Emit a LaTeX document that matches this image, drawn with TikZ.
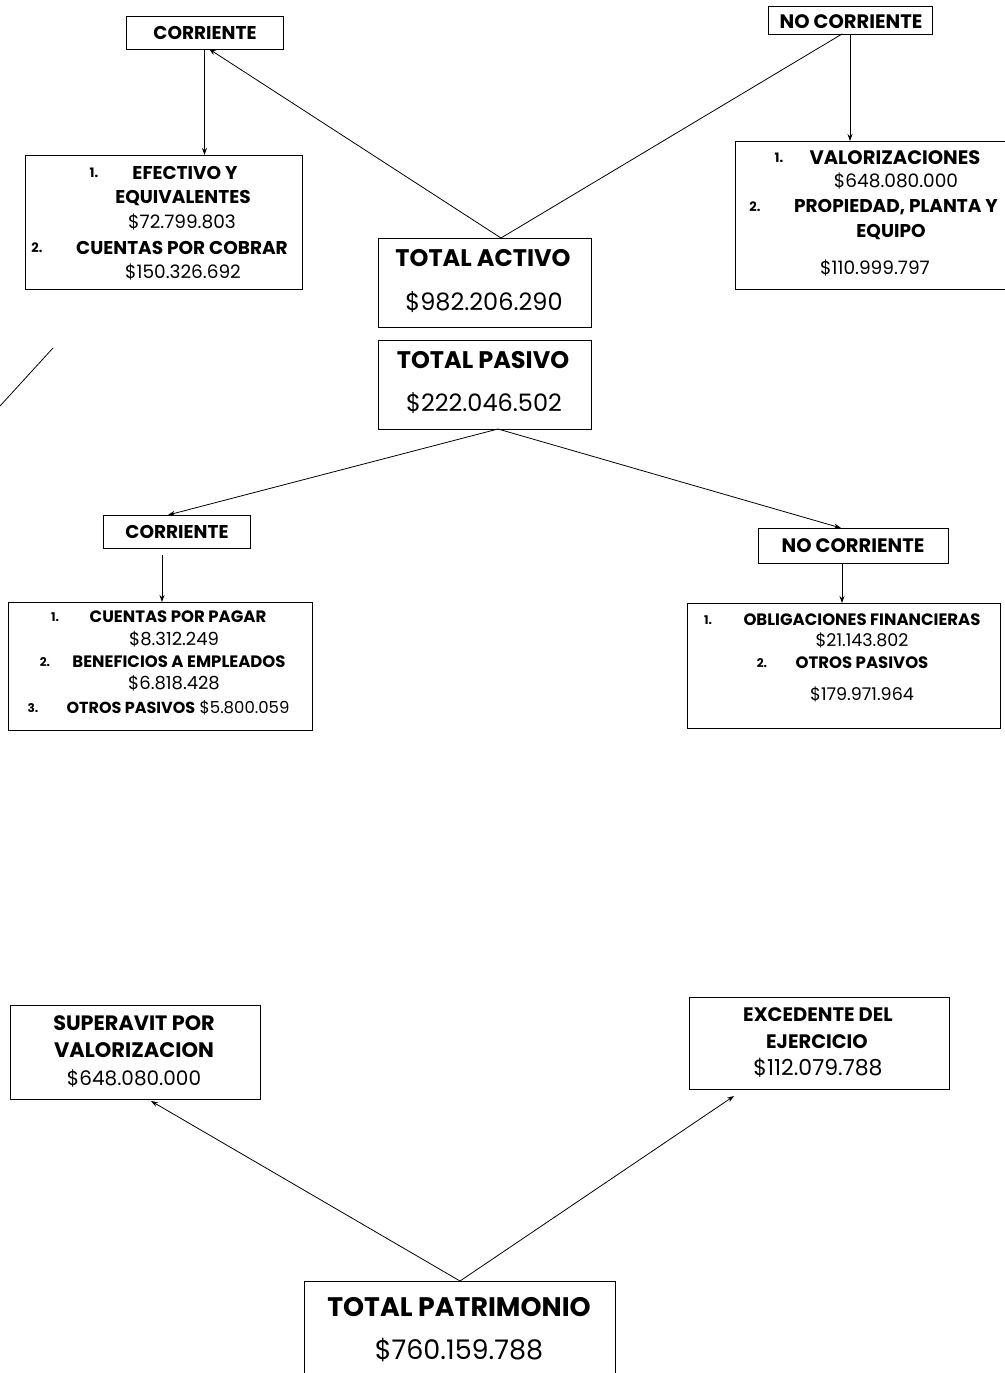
\documentclass[tikz,border=0pt]{standalone}
\usepackage{fontspec}
\setmainfont{Poppins}
\usetikzlibrary{arrows.meta}
\newcommand\myfs[1]{\fontsize{#1}{#1}\selectfont}
\tikzset{
  box/.style={draw, line width=0.9pt, inner sep=0pt, outer sep=0pt},
  hd/.style={inner sep=0pt, anchor=center, font=\bfseries\myfs{#1}},
  hd/.default=18,
  num/.style={inner sep=0pt, anchor=center, font=\myfs{#1}},
  num/.default=18,
  conn/.style={line width=0.8pt, -{Stealth[length=7pt,width=5pt]}},
  plain/.style={line width=0.8pt},
}
\begin{document}
\begin{tikzpicture}[x=1pt,y=-1pt]
\useasboundingbox (0,0) rectangle (1004,1373);
% ---------- boxes ----------
\node[box, minimum width=157, minimum height=33] (ac) at (204.5,32.5) {};
\node[box, minimum width=164, minimum height=28] (anc) at (850,20.5) {};
\node[box, minimum width=277, minimum height=134] (aef) at (163.5,222) {};
\node[box, minimum width=213, minimum height=89] (ta) at (484.5,282.5) {};
\node[box, minimum width=213, minimum height=89] (tp) at (484.5,384.5) {};
\node[box, minimum width=275, minimum height=148] (aval) at (872.5,215) {};
\node[box, minimum width=147, minimum height=33] (pc) at (176.5,531.5) {};
\node[box, minimum width=190, minimum height=35] (pnc) at (853,545.5) {};
\node[box, minimum width=304, minimum height=128] (pcu) at (160,666) {};
\node[box, minimum width=313, minimum height=125] (pob) at (843.5,665.5) {};
\node[box, minimum width=250, minimum height=94] (sup) at (135,1052) {};
\node[box, minimum width=260, minimum height=92] (exc) at (819,1043) {};
\node[box, minimum width=311, minimum height=120] (tpat) at (459.5,1341) {};
% ---------- texts ----------
\node[hd=18.5] (tac) at (205,33) {CORRIENTE};
\node[hd=19.5] (tanc) at (851,22) {NO CORRIENTE};
\node[hd=13] (e1) at (94,173) {1.};
\node[hd=18.5] (ef1) at (185,173) {EFECTIVO Y};
\node[hd=18.5] (ef2) at (183,198) {EQUIVALENTES};
\node[num=18.5] (ef3) at (182,222) {\$72.799.803};
\node[hd=13] (e2) at (37,248) {2.};
\node[hd=18.5] (ef4) at (182,248) {CUENTAS POR COBRAR};
\node[num=18.5] (ef5) at (183,272) {\$150.326.692};
\node[hd=24] (ta1) at (483,258) {TOTAL ACTIVO};
\node[num=24] (ta2) at (484,302) {\$982.206.290};
\node[hd=24] (tp1) at (483,360) {TOTAL PASIVO};
\node[num=24] (tp2) at (484,403) {\$222.046.502};
\node[hd=13] (v1) at (779,158) {1.};
\node[hd=19.5] (va1) at (895,158) {VALORIZACIONES};
\node[num=18.5] (va2) at (896,181) {\$648.080.000};
\node[hd=13] (v2) at (755,207) {2.};
\node[hd=18.5] (va3) at (896,207) {PROPIEDAD, PLANTA Y};
\node[hd=18.5] (va4) at (891,232) {EQUIPO};
\node[num=18.5] (va5) at (875,268) {\$110.999.797};
\node[hd=18.5] (tpc) at (177,532) {CORRIENTE};
\node[hd=19.5] (tpnc) at (853,546) {NO CORRIENTE};
\node[hd=12] (c1) at (55,617) {1.};
\node[hd=16.5] (cu1) at (178,617) {CUENTAS POR PAGAR};
\node[num=18] (cu2) at (174,639) {\$8.312.249};
\node[hd=12] (c2) at (45,662) {2.};
\node[hd=16.5] (cu3) at (179,662) {BENEFICIOS A EMPLEADOS};
\node[num=18] (cu4) at (174,683) {\$6.818.428};
\node[hd=12] (c3) at (33,708) {3.};
\node[num=16.5] (cu5) at (178,708) {\textbf{\myfs{16}OTROS PASIVOS} \$5.800.059};
\node[hd=12] (o1) at (708,620) {1.};
\node[hd=16.5] (ob1) at (862,620) {OBLIGACIONES FINANCIERAS};
\node[num=17.5] (ob2) at (862,640) {\$21.143.802};
\node[hd=12] (o2) at (762,663) {2.};
\node[hd=16.5] (ob3) at (862,663) {OTROS PASIVOS};
\node[num=17.5] (ob4) at (862,694) {\$179.971.964};
\node[hd=20.8] (su1) at (134,1023) {SUPERAVIT POR};
\node[hd=21] (su2) at (134,1050) {VALORIZACION};
\node[num=20] (su3) at (134,1078) {\$648.080.000};
\node[hd=19.5] (ex1) at (818,1015) {EXCEDENTE DEL};
\node[hd=19.5] (ex2) at (817,1042) {EJERCICIO};
\node[num=22] (ex3) at (818,1068) {\$112.079.788};
\node[hd=26.8] (pa1) at (459,1307) {TOTAL PATRIMONIO};
\node[num=27] (pa2) at (459,1350) {\$760.159.788};
% ---------- connector ends ----------
\coordinate (taapex) at (501,238);
\coordinate (acin) at (209,49);
\coordinate (ancin) at (842,34);
\coordinate (tpapex) at (498,429);
\coordinate (pcin) at (168,515);
\coordinate (pncin) at (841,528);
\coordinate (pcout) at (162,555);
\coordinate (pncout) at (842,563);
\coordinate (patapex) at (460,1281);
\coordinate (supin) at (151,1101);
\coordinate (excin) at (734,1096);
\coordinate (strayA) at (0,406);
\coordinate (strayB) at (53,348);
% ---------- connectors ----------
\draw[conn] (taapex) -- (acin);
\draw[plain] (taapex) -- (ancin);
\draw[conn] (ac.south) -- (ac.south |- aef.north);
\draw[conn] (anc.south) -- (anc.south |- aval.north);
\draw[conn] (tpapex) -- (pcin);
\draw[conn] (tpapex) -- (pncin);
\draw[conn] (pcout) -- (pcout |- pcu.north);
\draw[conn] (pncout) -- (pncout |- pob.north);
\draw[conn] (patapex) -- (supin);
\draw[conn] (patapex) -- (excin);
\draw[plain] (strayA) -- (strayB);
\end{tikzpicture}
\end{document}
